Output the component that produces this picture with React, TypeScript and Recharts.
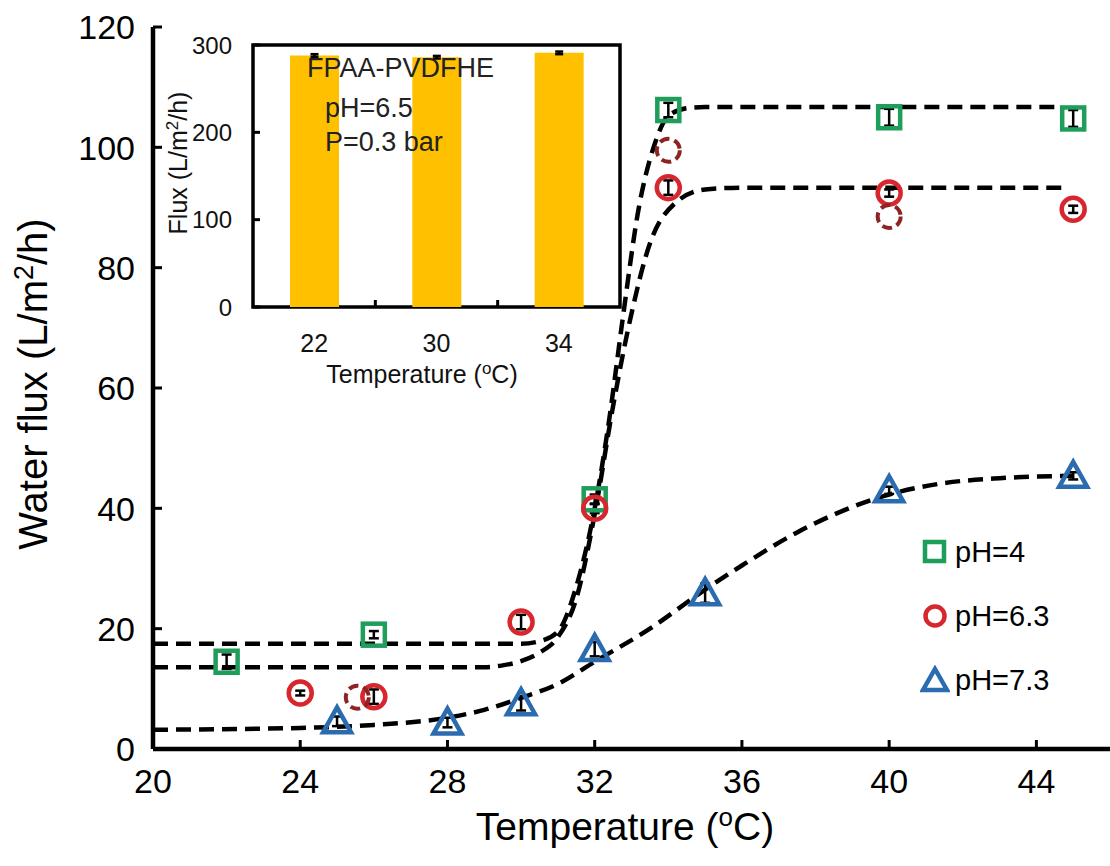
import React from "react";
import {
  ComposedChart,
  BarChart,
  Bar,
  Line,
  Scatter,
  XAxis,
  YAxis,
  ErrorBar,
  Legend,
  Label,
  ReferenceArea,
} from "recharts";

const FONT = '"Liberation Sans", Arial, Helvetica, sans-serif';
const GREEN = "#1F9D5A";
const RED = "#D7262D";
const DARK_RED = "#8E2323";
const BLUE = "#2B6CB0";
const GOLD = "#FFC000";

// measured points, pH = 4
const ph4Temp = [22, 26, 32, 34, 40, 45];
const ph4Flux = [14.5, 19, 41.5, 106.2, 105, 104.8];
const ph4Err = [1.2, 0.6, 0.8, 1.2, 1.4, 1.4];

// measured points, pH = 6.3
const ph63Temp = [24, 26, 30, 32, 34, 40, 45];
const ph63Flux = [9.3, 8.7, 21.1, 40, 93.3, 92.4, 89.7];
const ph63Err = [0.4, 1.2, 1.2, 0.8, 1.2, 0.6, 0.6];

// repeated pH = 6.3 runs (dashed circles)
const ph63RepTemp = [25.55, 34, 40];
const ph63RepFlux = [8.6, 99.5, 88.5];

// measured points, pH = 7.3
const ph73Temp = [25, 28, 30, 32, 35, 40, 45];
const ph73Flux = [4.6, 4.4, 7.6, 16.6, 25.9, 43, 45.4];
const ph73Err = [0.8, 0.8, 1.2, 1.2, 1.6, 0.6, 0.6];

// dashed fit curves
const fit4Temp = [20, 30, 30.5, 31, 31.5, 32, 32.4, 32.75, 33.2, 33.6, 34, 34.5, 35, 44.7];
const fit4Flux = [17.5, 17.5, 17.9, 19.5, 27, 40, 55, 71, 90, 100, 105.2, 106.5, 106.7, 106.7];

const fit63Temp = [20, 29, 29.5, 30, 30.5, 31, 31.5, 32, 32.5, 32.95, 33.5, 34.2, 35, 36, 44.7];
const fit63Flux = [13.6, 13.6, 13.9, 14.6, 16, 18.6, 25, 39, 57, 71, 84, 90.8, 93, 93.3, 93.3];

const fit73Temp = [20, 24, 26, 28, 29, 30, 31, 32, 33.5, 35, 36, 37.5, 40, 41.5, 43, 45];
const fit73Flux = [3.2, 3.5, 4, 5.2, 6.5, 8.5, 10.8, 14.5, 20, 26.5, 30.5, 36, 42.3, 44.2, 45, 45.4];

const xTicks = [20, 24, 28, 32, 36, 40, 44];
const yTicks = [0, 20, 40, 60, 80, 100, 120];

// inset bar chart
const insetTemps = ["22", "30", "34"];
const insetFlux = [288, 286, 291];
const insetErr = [1.5, 1.5, 1.5];
const insetTicks = [0, 100, 200, 300];
const insetNote = ["FPAA-PVDFHE", "pH=6.5", "P=0.3 bar"];

const rows = (xs: number[], ys: number[], es?: number[]) =>
  xs.map((x, i) => ({ temp: x, flux: ys[i], err: es ? es[i] : 0 }));

const ph4Data = rows(ph4Temp, ph4Flux, ph4Err);
const ph63Data = rows(ph63Temp, ph63Flux, ph63Err);
const ph63RepData = rows(ph63RepTemp, ph63RepFlux);
const ph73Data = rows(ph73Temp, ph73Flux, ph73Err);
const fit4Data = rows(fit4Temp, fit4Flux);
const fit63Data = rows(fit63Temp, fit63Flux);
const fit73Data = rows(fit73Temp, fit73Flux);
const insetData = insetTemps.map((t, i) => ({ t, flux: insetFlux[i], err: insetErr[i] }));

const legendItems = [
  { label: "pH=4", kind: "square", color: GREEN },
  { label: "pH=6.3", kind: "circle", color: RED },
  { label: "pH=7.3", kind: "triangle", color: BLUE },
];

const SquareMark = (p: any) => (
  <rect x={p.cx - 11} y={p.cy - 11} width={22} height={22} fill="none" stroke={GREEN} strokeWidth={4.5} />
);
const CircleMark = (p: any) => <circle cx={p.cx} cy={p.cy} r={11.5} fill="none" stroke={RED} strokeWidth={4.5} />;
const DashedCircleMark = (p: any) => (
  <circle cx={p.cx} cy={p.cy} r={11.5} fill="none" stroke={DARK_RED} strokeWidth={4} strokeDasharray="10 5" />
);
const TriangleMark = (p: any) => (
  <polygon
    points={`${p.cx},${p.cy - 14} ${p.cx + 14},${p.cy + 11} ${p.cx - 14},${p.cy + 11}`}
    fill="none"
    stroke={BLUE}
    strokeWidth={4.5}
    strokeLinejoin="miter"
  />
);

const MainXTick = ({ x, y, payload }: any) => (
  <g>
    <line x1={x} x2={x} y1={y} y2={y - 9} stroke="#000" strokeWidth={3} />
    <text x={x} y={y + 44} textAnchor="middle" fontSize={34} fontFamily={FONT} fill="#000">
      {payload.value}
    </text>
  </g>
);

const MainYTick = ({ x, y, payload }: any) => (
  <g>
    <line x1={x} x2={x + 9} y1={y} y2={y} stroke="#000" strokeWidth={3} />
    <text x={x - 18} y={y} dy="0.36em" textAnchor="end" fontSize={34} fontFamily={FONT} fill="#000">
      {payload.value}
    </text>
  </g>
);

const INSET_BAND = 367 / insetTemps.length;

const InsetXTick = ({ x, y, payload, index }: any) => (
  <g>
    {index > 0 && <line x1={x - INSET_BAND / 2} x2={x - INSET_BAND / 2} y1={y} y2={y - 7} stroke="#000" strokeWidth={3} />}
    <text x={x} y={y + 45} textAnchor="middle" fontSize={25} fontFamily={FONT} fill="#111">
      {payload.value}
    </text>
  </g>
);

const InsetYTick = ({ x, y, payload }: any) => (
  <g>
    <line x1={x} x2={x + 7} y1={y} y2={y} stroke="#000" strokeWidth={3} />
    <text x={x - 21} y={y} dy="0.36em" textAnchor="end" fontSize={24} fontFamily={FONT} fill="#111">
      {payload.value}
    </text>
  </g>
);

const MainLegend = () => (
  <div style={{ fontFamily: FONT, fontSize: 29, color: "#000" }}>
    {legendItems.map((it) => (
      <div key={it.label} style={{ display: "flex", alignItems: "center", height: 64 }}>
        <svg width={30} height={30} style={{ marginRight: 5 }}>
          {it.kind === "square" && <rect x={5} y={5} width={19} height={19} fill="none" stroke={it.color} strokeWidth={4.5} />}
          {it.kind === "circle" && <circle cx={15} cy={15} r={9.5} fill="none" stroke={it.color} strokeWidth={4.5} />}
          {it.kind === "triangle" && (
            <polygon points="15,4 27,25 3,25" fill="none" stroke={it.color} strokeWidth={4.5} />
          )}
        </svg>
        <span>{it.label}</span>
      </div>
    ))}
  </div>
);

const Inset = () => (
  <div style={{ position: "absolute", left: 150, top: 30, width: 480, height: 370 }}>
    <BarChart
      width={480}
      height={370}
      data={insetData}
      margin={{ top: 15, right: 10, bottom: 0, left: 0 }}
      barSize={49}
    >
      <XAxis
        dataKey="t"
        height={93}
        tickSize={0}
        tickMargin={0}
        tickLine={false}
        axisLine={false}
        tick={<InsetXTick />}
        interval={0}
      >
        <Label
          content={() => (
            <text x={272} y={353} textAnchor="middle" fontSize={25} fontFamily={FONT} fill="#111">
              Temperature (<tspan dy={-9} fontSize={17}>o</tspan>
              <tspan dy={9}>C)</tspan>
            </text>
          )}
        />
      </XAxis>
      <YAxis
        domain={[0, 300]}
        ticks={insetTicks}
        width={103}
        tickSize={0}
        tickMargin={0}
        tickLine={false}
        axisLine={false}
        tick={<InsetYTick />}
      >
        <Label
          content={() => (
            <text
              x={28}
              y={133}
              transform="rotate(-90, 28, 133)"
              textAnchor="middle"
              dy="0.35em"
              fontSize={25}
              fontFamily={FONT}
              fill="#111"
            >
              Flux (L/m<tspan dy={-9} fontSize={17}>2</tspan>
              <tspan dy={9}>/h)</tspan>
            </text>
          )}
        />
      </YAxis>
      <Bar dataKey="flux" fill={GOLD} isAnimationActive={false}>
        <ErrorBar dataKey="err" width={4} stroke="#000" strokeWidth={2.5} direction="y" />
      </Bar>
      <ReferenceArea y1={0} y2={300} fill="none" stroke="#000" strokeWidth={3.5} ifOverflow="visible" />
    </BarChart>
    {/* annotation drawn above the bars */}
    <svg
      width={480}
      height={370}
      style={{ position: "absolute", left: 0, top: 0, pointerEvents: "none" }}
    >
      <g fontFamily={FONT} fontSize={27} fill="#222">
        <text x={157} y={47}>{insetNote[0]}</text>
        <text x={175} y={87}>{insetNote[1]}</text>
        <text x={175} y={121}>{insetNote[2]}</text>
      </g>
    </svg>
  </div>
);

export default function App() {
  return (
    <div style={{ position: "absolute", left: 0, top: 0, width: 1110, height: 866, background: "#fff" }}>
      <ComposedChart width={1110} height={866} margin={{ top: 27, right: 0, bottom: 0, left: 0 }}>
        <XAxis
          type="number"
          dataKey="temp"
          domain={[20, 46]}
          ticks={xTicks}
          height={117}
          tickSize={0}
          tickMargin={0}
          tickLine={false}
          axisLine={{ stroke: "#000", strokeWidth: 4.5 }}
          tick={<MainXTick />}
        >
          <Label
            content={() => (
              <text x={625} y={840} textAnchor="middle" fontSize={39} fontFamily={FONT} fill="#000">
                Temperature (<tspan dy={-14} fontSize={26}>o</tspan>
                <tspan dy={14}>C)</tspan>
              </text>
            )}
          />
        </XAxis>
        <YAxis
          type="number"
          domain={[0, 120]}
          ticks={yTicks}
          width={153}
          tickSize={0}
          tickMargin={0}
          tickLine={false}
          axisLine={{ stroke: "#000", strokeWidth: 4.5 }}
          tick={<MainYTick />}
        >
          <Label
            content={() => (
              <text
                x={33}
                y={384}
                transform="rotate(-90, 33, 384)"
                textAnchor="middle"
                dy="0.35em"
                fontSize={40}
                fontFamily={FONT}
                fill="#000"
              >
                Water flux (L/m<tspan dy={-14} fontSize={27}>2</tspan>
                <tspan dy={14}>/h)</tspan>
              </text>
            )}
          />
        </YAxis>

        <Line data={fit4Data} dataKey="flux" type="monotone" stroke="#000" strokeWidth={4.5} strokeDasharray="15 8" dot={false} isAnimationActive={false} legendType="none" />
        <Line data={fit63Data} dataKey="flux" type="monotone" stroke="#000" strokeWidth={4.5} strokeDasharray="15 8" dot={false} isAnimationActive={false} legendType="none" />
        <Line data={fit73Data} dataKey="flux" type="monotone" stroke="#000" strokeWidth={4.5} strokeDasharray="15 8" dot={false} isAnimationActive={false} legendType="none" />

        <Scatter name="pH=4" data={ph4Data} dataKey="flux" shape={SquareMark} isAnimationActive={false}>
          <ErrorBar dataKey="err" direction="y" width={5} stroke="#000" strokeWidth={2.5} />
        </Scatter>
        <Scatter name="pH=6.3" data={ph63Data} dataKey="flux" shape={CircleMark} isAnimationActive={false}>
          <ErrorBar dataKey="err" direction="y" width={5} stroke="#000" strokeWidth={2.5} />
        </Scatter>
        <Scatter name="pH=6.3 repeat" data={ph63RepData} dataKey="flux" shape={DashedCircleMark} isAnimationActive={false} legendType="none" />
        <Scatter name="pH=7.3" data={ph73Data} dataKey="flux" shape={TriangleMark} isAnimationActive={false}>
          <ErrorBar dataKey="err" direction="y" width={5} stroke="#000" strokeWidth={2.5} />
        </Scatter>

        <Legend
          layout="horizontal"
          verticalAlign="middle"
          content={<MainLegend />}
          wrapperStyle={{ position: "absolute", left: 920, top: 520, width: 185 }}
        />
      </ComposedChart>
      <Inset />
    </div>
  );
}
